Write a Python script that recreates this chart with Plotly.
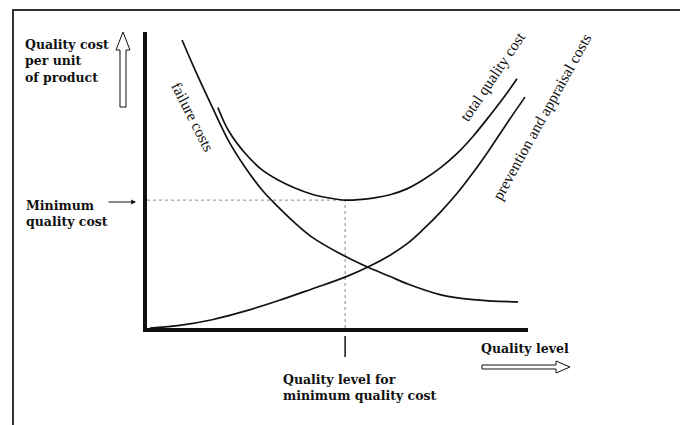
import plotly.graph_objects as go

# ---- data (quality level vs cost, arbitrary units 0-10) ----
failure_x = [0.92, 1.26, 1.71, 2.13, 2.57, 3.02, 3.44, 3.88, 4.33, 5.20, 5.80, 6.38, 6.82, 7.69, 8.56, 9.74]
failure_y = [9.73, 8.72, 7.47, 6.35, 5.44, 4.66, 4.09, 3.55, 3.07, 2.42, 2.05, 1.74, 1.50, 1.13, 0.96, 0.88]

total_x = [1.86, 2.13, 2.57, 3.02, 3.44, 3.88, 4.33, 4.75, 5.20, 5.93, 6.38, 6.82, 7.24, 7.69, 8.14, 8.56, 9.00, 9.45, 9.71]
total_y = [7.45, 6.69, 5.91, 5.34, 5.00, 4.73, 4.52, 4.40, 4.32, 4.39, 4.50, 4.70, 5.00, 5.40, 5.90, 6.48, 7.18, 7.94, 8.42]

prevention_x = [0.08, 0.81, 1.71, 2.57, 3.44, 4.33, 5.20, 5.80, 6.38, 6.82, 7.24, 7.69, 8.14, 8.56, 9.00, 9.45, 9.92]
prevention_y = [0.00, 0.08, 0.28, 0.57, 0.92, 1.32, 1.72, 2.06, 2.46, 2.84, 3.32, 3.90, 4.55, 5.25, 6.05, 6.92, 7.80]

min_quality = 5.20
min_cost = 4.32

# ---- layout geometry (pixels of the 680x425 canvas) ----
L, R, T, B = 147, 528, 32, 328
W, H = R - L, B - T


def px(x):
    return (x - L) / W


def py(y):
    return (B - y) / H


def path(points, close=False):
    s = "M" + " L".join(f"{px(a):.4f},{py(b):.4f}" for a, b in points)
    return s + (" Z" if close else "")


BOLD_FONT = "DejaVu Serif"
CURVE_FONT = "Liberation Serif"
INK = "#111111"

fig = go.Figure()

# dotted guide lines for the minimum
fig.add_trace(go.Scatter(x=[0, min_quality], y=[min_cost, min_cost], mode="lines",
                         line=dict(color="#888888", width=1, dash="dot"), hoverinfo="skip"))
fig.add_trace(go.Scatter(x=[min_quality, min_quality], y=[0, min_cost], mode="lines",
                         line=dict(color="#888888", width=1, dash="dot"), hoverinfo="skip"))

for xs, ys in [(failure_x, failure_y), (total_x, total_y), (prevention_x, prevention_y)]:
    fig.add_trace(go.Scatter(x=xs, y=ys, mode="lines", line=dict(color=INK, width=1.7, shape="spline"),
                             hoverinfo="skip"))

shapes = []
# frame (top and left edges only)
shapes.append(dict(type="path", xref="paper", yref="paper",
                   path=path([(13, 425), (13, 10), (680, 10)]),
                   line=dict(color="#333333", width=2)))
# hollow up arrow
shapes.append(dict(type="path", xref="paper", yref="paper",
                   path=path([(120, 107), (120, 50), (116, 50), (123, 32), (130, 50), (126, 50), (126, 107)], True),
                   line=dict(color=INK, width=1), fillcolor="white"))
# hollow right arrow
shapes.append(dict(type="path", xref="paper", yref="paper",
                   path=path([(482, 365), (556, 365), (556, 361), (570, 367), (556, 373), (556, 369), (482, 369)], True),
                   line=dict(color=INK, width=1), fillcolor="white"))
# tick mark under the x axis at the minimum quality level
shapes.append(dict(type="line", xref="x", yref="paper", x0=min_quality, x1=min_quality,
                   y0=py(336), y1=py(357), line=dict(color=INK, width=1.5)))

annotations = []


def text(t, x, y, size=12.5, family=BOLD_FONT, xanchor="left", yanchor="top", angle=0):
    annotations.append(dict(text=t, x=px(x), y=py(y), xref="paper", yref="paper",
                            xanchor=xanchor, yanchor=yanchor, textangle=angle, align="left",
                            showarrow=False, font=dict(family=family, size=size, color=INK)))


text("<b>Quality cost<br>per unit<br>of product</b>", 23, 35)
text("<b>Minimum<br>quality cost</b>", 24, 196)
text("<b>Quality level</b>", 479, 348, yanchor="middle")
text("<b>Quality level for<br>minimum quality cost</b>", 281, 370)
text("failure costs", 193, 116, size=15.5, family=CURVE_FONT, xanchor="center", yanchor="middle", angle=63)
text("total quality cost", 492, 76, size=15.5, family=CURVE_FONT, xanchor="center", yanchor="middle", angle=-56)
text("prevention and appraisal costs", 541, 117, size=15.5, family=CURVE_FONT, xanchor="center",
     yanchor="middle", angle=-61)

# arrow pointing at the minimum cost level
annotations.append(dict(text="", x=px(136), y=py(202), xref="paper", yref="paper",
                        ax=-29, ay=0, showarrow=True, arrowhead=2, arrowsize=0.8,
                        arrowwidth=1.2, arrowcolor=INK))

fig.update_layout(
    width=680, height=425,
    margin=dict(l=L, r=680 - R, t=T, b=425 - B),
    paper_bgcolor="white", plot_bgcolor="white",
    showlegend=False, hovermode=False,
    shapes=shapes, annotations=annotations,
    xaxis=dict(range=[0, 10], showline=True, linewidth=3.5, linecolor=INK, showgrid=False,
               zeroline=False, showticklabels=False, ticks="", fixedrange=True),
    yaxis=dict(range=[0, 10], showline=True, linewidth=3.5, linecolor=INK, showgrid=False,
               zeroline=False, showticklabels=False, ticks="", fixedrange=True),
)

fig.write_html("out.html", config={"displayModeBar": False},
               post_script="document.body.style.margin='0';document.body.style.overflow='hidden';")
